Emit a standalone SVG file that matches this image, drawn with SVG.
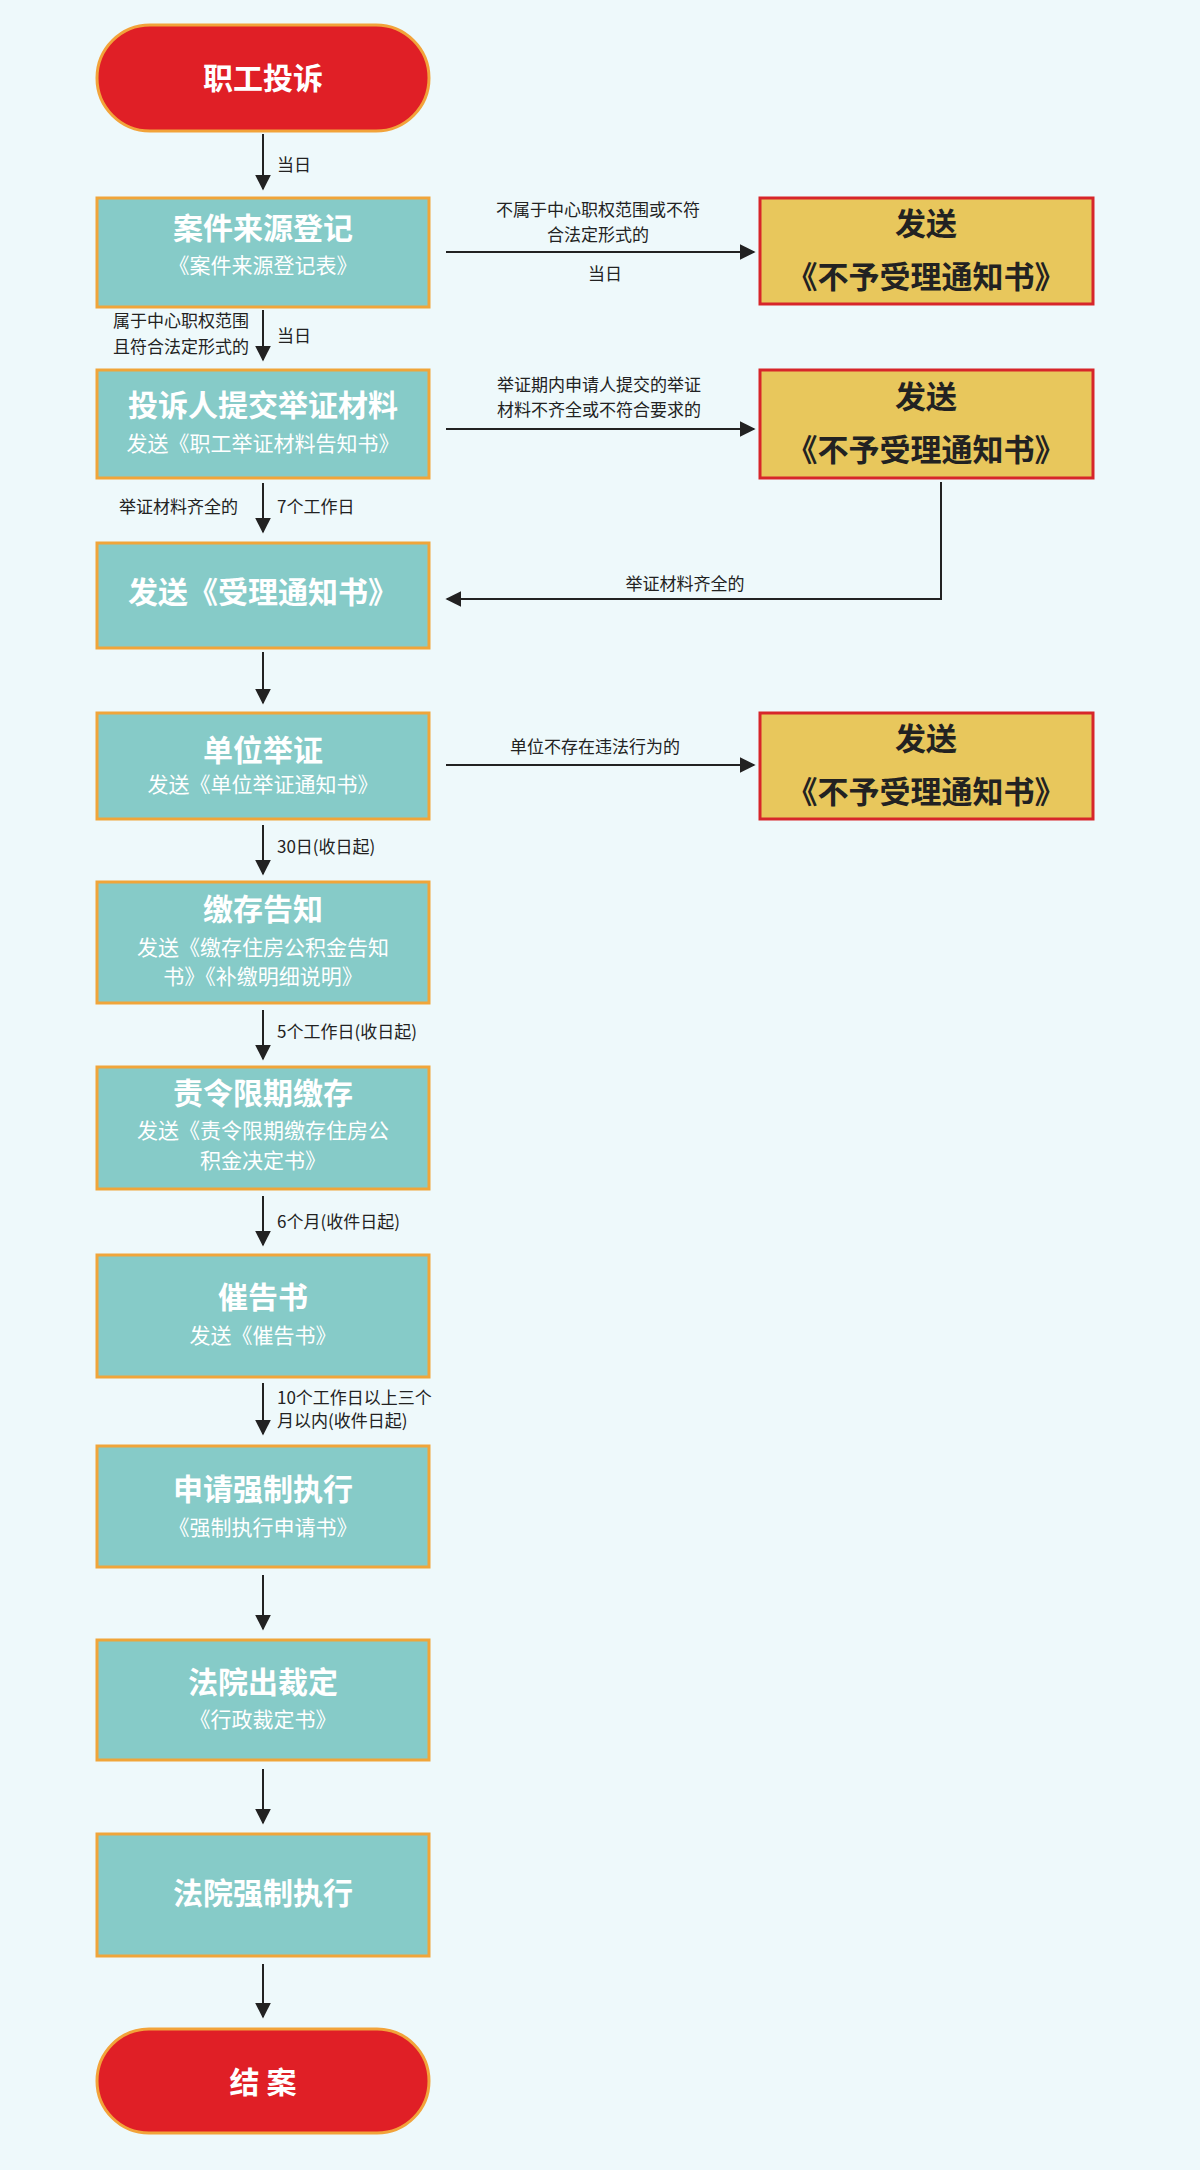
<svg xmlns="http://www.w3.org/2000/svg" width="1200" height="2170" viewBox="0 0 1200 2170">
<style>
text{font-family:"Noto Sans CJK SC","Noto Sans",sans-serif}
.pill{fill:#e01f26;stroke:#f2a33a;stroke-width:3}
.box{fill:#86cbc8;stroke:#f0a53a;stroke-width:3}
.ybox{fill:#e8c75c;stroke:#d7262a;stroke-width:3}
.t{fill:#fff;font-size:30px;font-weight:bold;text-anchor:middle}
.s{fill:#fff;font-size:21px;text-anchor:middle}
.y{fill:#222;font-size:31px;font-weight:bold;text-anchor:middle}
.l{fill:#222;font-size:17px}
.c{stroke:#222;stroke-width:2;fill:none;marker-end:url(#a)}
</style>
<defs><marker id="a" viewBox="0 0 10 10" refX="9" refY="5" markerWidth="8" markerHeight="8" orient="auto"><path d="M0,0L10,5L0,10z" fill="#222"/></marker></defs>
<rect width="1200" height="2170" fill="#eef9fb"/>
<g id="connectors">
<path class="c" d="M263,134V189"/>
<path class="c" d="M446,252H754"/>
<path class="c" d="M263,310V360"/>
<path class="c" d="M446,429H754"/>
<path class="c" d="M263,483V532"/>
<path class="c" d="M941,482V599H447"/>
<path class="c" d="M263,652V703"/>
<path class="c" d="M446,765H754"/>
<path class="c" d="M263,825V874"/>
<path class="c" d="M263,1010V1059"/>
<path class="c" d="M263,1196V1245"/>
<path class="c" d="M263,1383V1434"/>
<path class="c" d="M263,1575V1629"/>
<path class="c" d="M263,1769V1823"/>
<path class="c" d="M263,1964V2017"/>
<g class="l">
<text x="277" y="171">当日</text>
<text x="598" y="216" text-anchor="middle">不属于中心职权范围或不符</text>
<text x="598" y="241" text-anchor="middle">合法定形式的</text>
<text x="605" y="280" text-anchor="middle">当日</text>
<text x="249" y="327" text-anchor="end">属于中心职权范围</text>
<text x="249" y="353" text-anchor="end">且符合法定形式的</text>
<text x="277" y="342">当日</text>
<text x="599" y="391" text-anchor="middle">举证期内申请人提交的举证</text>
<text x="599" y="416" text-anchor="middle">材料不齐全或不符合要求的</text>
<text x="238" y="513" text-anchor="end">举证材料齐全的</text>
<text x="277" y="513">7个工作日</text>
<text x="685" y="590" text-anchor="middle">举证材料齐全的</text>
<text x="595" y="753" text-anchor="middle">单位不存在违法行为的</text>
<text x="277" y="853">30日(收日起)</text>
<text x="277" y="1038">5个工作日(收日起)</text>
<text x="277" y="1228">6个月(收件日起)</text>
<text x="277" y="1404">10个工作日以上三个</text>
<text x="277" y="1427">月以内(收件日起)</text>
</g>
</g>
<g id="start"><rect class="pill" x="97" y="25" width="332" height="106" rx="53"/><text class="t" x="263" y="89">职工投诉</text></g>
<g id="n1"><rect class="box" x="97" y="198" width="332" height="109"/><text class="t" x="263" y="239">案件来源登记</text><text class="s" x="263" y="273">《案件来源登记表》</text></g>
<g id="r1"><rect class="ybox" x="760" y="198" width="333" height="106"/><text class="y" x="926" y="235">发送</text><text class="y" x="926" y="288">《不予受理通知书》</text></g>
<g id="n2"><rect class="box" x="97" y="370" width="332" height="108"/><text class="t" x="263" y="416">投诉人提交举证材料</text><text class="s" x="263" y="451">发送《职工举证材料告知书》</text></g>
<g id="r2"><rect class="ybox" x="760" y="370" width="333" height="108"/><text class="y" x="926" y="408">发送</text><text class="y" x="926" y="461">《不予受理通知书》</text></g>
<g id="n3"><rect class="box" x="97" y="543" width="332" height="105"/><text class="t" x="263" y="603">发送《受理通知书》</text></g>
<g id="n4"><rect class="box" x="97" y="713" width="332" height="106"/><text class="t" x="263" y="761">单位举证</text><text class="s" x="263" y="792">发送《单位举证通知书》</text></g>
<g id="r3"><rect class="ybox" x="760" y="713" width="333" height="106"/><text class="y" x="926" y="750">发送</text><text class="y" x="926" y="803">《不予受理通知书》</text></g>
<g id="n5"><rect class="box" x="97" y="882" width="332" height="121"/><text class="t" x="263" y="920">缴存告知</text><text class="s" x="263" y="955">发送《缴存住房公积金告知</text><text class="s" x="263" y="984">书》《补缴明细说明》</text></g>
<g id="n6"><rect class="box" x="97" y="1067" width="332" height="122"/><text class="t" x="263" y="1104">责令限期缴存</text><text class="s" x="263" y="1138">发送《责令限期缴存住房公</text><text class="s" x="263" y="1168">积金决定书》</text></g>
<g id="n7"><rect class="box" x="97" y="1255" width="332" height="122"/><text class="t" x="263" y="1308">催告书</text><text class="s" x="263" y="1343">发送《催告书》</text></g>
<g id="n8"><rect class="box" x="97" y="1446" width="332" height="121"/><text class="t" x="263" y="1500">申请强制执行</text><text class="s" x="263" y="1535">《强制执行申请书》</text></g>
<g id="n9"><rect class="box" x="97" y="1640" width="332" height="120"/><text class="t" x="263" y="1693">法院出裁定</text><text class="s" x="263" y="1727">《行政裁定书》</text></g>
<g id="n10"><rect class="box" x="97" y="1834" width="332" height="122"/><text class="t" x="263" y="1904">法院强制执行</text></g>
<g id="end"><rect class="pill" x="97" y="2029" width="332" height="104" rx="52"/><text class="t" x="263" y="2093">结  案</text></g>
</svg>
